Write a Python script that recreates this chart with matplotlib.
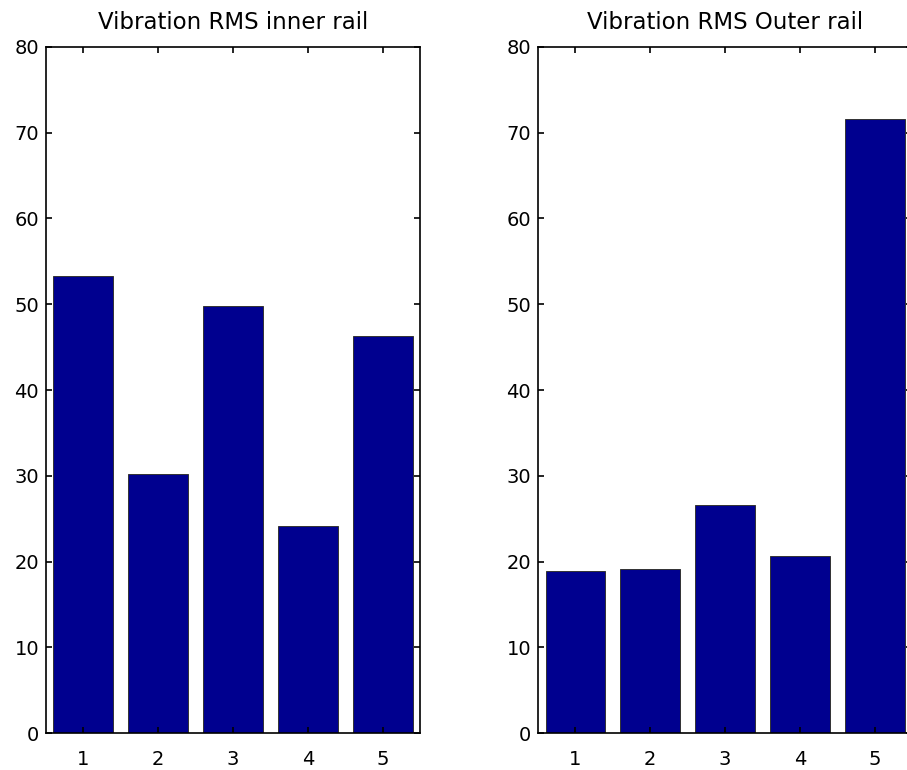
import matplotlib.pyplot as plt
import numpy as np

plt.rcParams['font.family'] = ['DejaVu Sans']

positions = [1, 2, 3, 4, 5]
inner_rms = [53.3, 30.2, 49.8, 24.2, 46.3]
outer_rms = [18.9, 19.1, 26.6, 20.7, 71.6]
titles = ["Vibration RMS inner rail", "Vibration RMS Outer rail"]
yticks = [0, 10, 20, 30, 40, 50, 60, 70, 80]

fig = plt.figure(figsize=(9.07, 7.7), dpi=100)

# second axes runs slightly past the right edge of the figure
ax1 = fig.add_axes([0.0507, 0.048, 0.4124, 0.891])
ax2 = fig.add_axes([0.5932, 0.048, 0.4124, 0.891])

for ax, vals, title in zip([ax1, ax2], [inner_rms, outer_rms], titles):
    ax.bar(positions, vals, width=0.8, color='#00008f',
           edgecolor='#333333', linewidth=0.7)
    ax.set_xlim(0.5, 5.5)
    ax.set_ylim(0, 80)
    ax.set_xticks(positions)
    ax.set_yticks(yticks)
    ax.tick_params(direction='in', length=4, width=1.2,
                   top=True, right=True, labelsize=14)
    ax.tick_params(axis='x', pad=12)
    ax.tick_params(axis='y', pad=5)
    for s in ax.spines.values():
        s.set_linewidth(1.2)
    ax.set_title(title, fontsize=16.5, pad=13)

fig.savefig("out.png", dpi=100)
plt.close()
